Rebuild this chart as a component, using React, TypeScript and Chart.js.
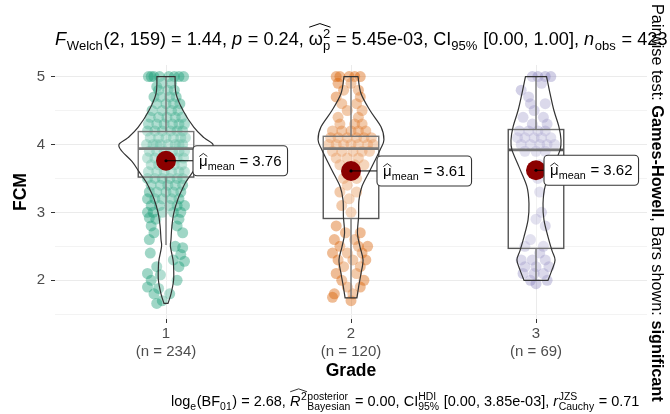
import React, { useEffect, useRef } from "react";
import { Chart, registerables } from "chart.js";

Chart.register(...registerables);

// ---------------- data ----------------
const grades = [1, 2, 3];
const groupSizes = [234, 120, 69];
const groupMeans = [3.76, 3.61, 3.62];
const boxLower = [3.52, 2.91, 2.47];
const boxMedian = [3.94, 3.94, 3.92];
const boxUpper = [4.19, 4.12, 4.22];
const whiskerMin = [2.52, 1.74, 2.0];
const whiskerMax = [5, 5, 5];
const yMajorTicks = [2, 3, 4, 5];
const yMinorTicks = [1.5, 2.5, 3.5, 4.5];

// violin half-widths (FCM value, half width in grade units)
const violinGrade1 = [
  [5, 0.049], [4.75, 0.054], [4.5, 0.092], [4.25, 0.151], [4.1, 0.205], [4.0, 0.254],
  [3.9, 0.238], [3.75, 0.184], [3.6, 0.146], [3.45, 0.108], [3.33, 0.086], [3.2, 0.065],
  [3.0, 0.043], [2.8, 0.032], [2.6, 0.027], [2.5, 0.024], [2.3, 0.038], [2.2, 0.041],
  [2.0, 0.041], [1.8, 0.027], [1.66, 0.011],
];
const violinGrade2 = [
  [5, 0.038], [4.75, 0.054], [4.5, 0.103], [4.26, 0.162], [4.07, 0.178], [3.92, 0.157],
  [3.62, 0.103], [3.38, 0.059], [3.18, 0.043], [2.94, 0.041], [2.69, 0.035], [2.49, 0.049],
  [2.3, 0.065], [2.1, 0.054], [1.9, 0.041], [1.74, 0.032],
];
const violinGrade3 = [
  [5, 0.057], [4.75, 0.076], [4.5, 0.097], [4.26, 0.124], [4.07, 0.135], [3.92, 0.13],
  [3.67, 0.092], [3.38, 0.049], [3.13, 0.038], [2.89, 0.043], [2.64, 0.065], [2.44, 0.086],
  [2.3, 0.103], [2.15, 0.086], [2.0, 0.065],
];

// jittered observations: [FCM value, horizontal jitter in grade units]
const grade1Points = [
  [5, -0.095], [5, -0.065], [5, -0.035], [5, 0.015], [5, 0.045], [5, 0.07], [5, 0.095], [5, -0.08],
  [4.9, -0.02], [4.9, 0.03], [4.85, -0.05],
  [4.8, -0.04], [4.8, 0.01], [4.8, 0.045],
  [4.7, -0.03], [4.7, 0.02], [4.7, 0.055], [4.7, -0.065],
  [4.6, -0.05], [4.6, 0.0], [4.6, 0.04], [4.6, 0.075],
  [4.5, -0.075], [4.5, -0.02], [4.5, 0.03], [4.5, 0.065],
  [4.4, -0.085], [4.4, -0.04], [4.4, 0.005], [4.4, 0.05], [4.4, 0.085],
  [4.3, -0.095], [4.3, -0.05], [4.3, -0.01], [4.3, 0.035], [4.3, 0.07], [4.3, 0.1],
  [4.2, -0.1], [4.2, -0.06], [4.2, -0.02], [4.2, 0.025], [4.2, 0.06], [4.2, 0.09],
  [4.1, -0.085], [4.1, -0.04], [4.1, 0.0], [4.1, 0.04], [4.1, 0.08], [4.1, 0.105],
  [4, -0.105], [4, -0.07], [4, -0.03], [4, 0.01], [4, 0.05], [4, 0.09], [4, -0.05], [4, 0.07],
  [3.9, -0.09], [3.9, -0.05], [3.9, -0.01], [3.9, 0.035], [3.9, 0.07], [3.9, 0.1],
  [3.8, -0.1], [3.8, -0.06], [3.8, -0.02], [3.8, 0.02], [3.8, 0.06], [3.8, 0.095],
  [3.7, -0.08], [3.7, -0.04], [3.7, 0.005], [3.7, 0.045], [3.7, 0.085],
  [3.6, -0.095], [3.6, -0.05], [3.6, -0.01], [3.6, 0.03], [3.6, 0.07], [3.6, 0.1],
  [3.5, -0.1], [3.5, -0.06], [3.5, -0.02], [3.5, 0.02], [3.5, 0.06], [3.5, 0.09],
  [3.4, -0.08], [3.4, -0.03], [3.4, 0.01], [3.4, 0.05], [3.4, 0.09],
  [3.3, -0.09], [3.3, -0.05], [3.3, 0.0], [3.3, 0.04], [3.3, 0.08],
  [3.2, -0.1], [3.2, -0.06], [3.2, -0.02], [3.2, 0.03], [3.2, 0.07],
  [3.1, -0.08], [3.1, -0.035], [3.1, 0.02], [3.1, 0.06], [3.1, 0.1],
  [3, -0.1], [3, -0.07], [3, -0.02], [3, 0.04], [3, 0.08],
  [2.92, -0.09], [2.9, -0.055], [2.9, 0.07],
  [2.8, -0.08], [2.8, 0.06],
  [2.7, -0.065], [2.7, 0.09],
  [2.6, -0.09],
  [2.5, 0.05], [2.48, 0.09],
  [2.4, -0.085], [2.38, 0.08],
  [2.3, 0.04], [2.28, 0.1],
  [2.2, -0.05], [2.2, 0.07],
  [2.1, -0.1], [2.08, -0.03],
  [2, -0.08], [2, 0.06],
  [1.9, -0.1], [1.88, -0.04],
  [1.8, -0.065], [1.8, 0.02],
  [1.7, -0.02], [1.66, -0.05],
];
const grade2Points = [
  [5, -0.08], [5, -0.06], [5, -0.01], [5, 0.02], [5, 0.05], [4.9, -0.07], [4.9, 0.0],
  [4.8, -0.04], [4.8, 0.04], [4.7, -0.08], [4.7, 0.05], [4.6, -0.05], [4.6, 0.03], [4.5, 0.06], [4.5, -0.02],
  [4.4, -0.07], [4.4, 0.04], [4.3, -0.06], [4.3, 0.02], [4.3, 0.06],
  [4.2, -0.1], [4.2, -0.05], [4.2, 0.0], [4.2, 0.04], [4.2, 0.08],
  [4.1, -0.11], [4.1, -0.07], [4.1, -0.02], [4.1, 0.03], [4.1, 0.07], [4.1, 0.11],
  [4.0, -0.12], [4.0, -0.08], [4.0, -0.04], [4.0, 0.0], [4.0, 0.04], [4.0, 0.09], [4.0, 0.12],
  [3.9, -0.1], [3.9, -0.05], [3.9, 0.01], [3.9, 0.06], [3.9, 0.1],
  [3.8, -0.08], [3.8, -0.02], [3.8, 0.04],
  [3.7, -0.06], [3.7, 0.02], [3.7, 0.07],
  [3.5, -0.04], [3.5, 0.03], [3.4, -0.02], [3.3, -0.06], [3.3, 0.03], [3.2, -0.01], [3.1, -0.05], [3.0, 0.0],
  [2.8, -0.08], [2.7, -0.03], [2.7, 0.05], [2.6, -0.09], [2.6, 0.02],
  [2.5, -0.06], [2.5, 0.04], [2.5, 0.09], [2.4, -0.1], [2.4, -0.02], [2.4, 0.06],
  [2.3, -0.07], [2.3, 0.01], [2.3, 0.08], [2.2, -0.04], [2.2, 0.05], [2.1, -0.08], [2.1, 0.03],
  [2.0, -0.05], [2.0, 0.07], [1.9, -0.02], [1.9, 0.05], [1.8, -0.09], [1.8, 0.01], [1.75, -0.1], [1.7, 0.0],
];
const grade3Points = [
  [5, -0.02], [5, 0.01], [5, 0.05], [5, 0.08], [4.9, 0.03], [4.8, -0.08], [4.7, -0.04], [4.6, 0.05],
  [4.6, -0.03], [4.5, -0.01], [4.4, -0.07], [4.4, 0.04], [4.3, -0.02], [4.3, 0.06],
  [4.2, -0.09], [4.2, -0.04], [4.2, 0.01], [4.2, 0.05],
  [4.1, -0.1], [4.1, -0.06], [4.1, -0.01], [4.1, 0.03], [4.1, 0.08],
  [4.0, -0.08], [4.0, -0.03], [4.0, 0.02], [4.0, 0.06], [4.0, 0.1],
  [3.9, -0.06], [3.9, 0.0], [3.9, 0.05],
  [3.7, 0.02], [3.6, 0.05], [3.5, 0.01], [3.3, 0.02], [3.0, 0.03], [2.9, 0.0], [2.8, 0.05],
  [2.6, -0.03], [2.5, 0.04], [2.5, -0.06], [2.4, 0.02],
  [2.3, -0.08], [2.3, -0.02], [2.3, 0.05], [2.2, -0.06], [2.2, 0.0], [2.2, 0.07],
  [2.1, -0.07], [2.1, -0.01], [2.1, 0.04], [2.0, -0.03], [2.0, 0.06], [1.95, 0.0],
];

const groupPoints = [grade1Points, grade2Points, grade3Points];
const violinProfiles = [violinGrade1, violinGrade2, violinGrade3];

// ---------------- styles ----------------
const FONT = '"Liberation Sans", Arial, Helvetica, sans-serif';
const pointColors = ["rgba(27,158,119,0.42)", "rgba(217,95,2,0.42)", "rgba(117,112,179,0.33)"];
const MEAN_COLOR = "#8B0000";
const BOX_HALF = 0.15;
const labelOffsetsPx = [27, 26, 8];

type Seg = { s?: string; it?: boolean; bold?: boolean; sub?: string; sup?: string; hat?: Seg[]; lift?: number };

function fontStr(size: number, it?: boolean, bold?: boolean) {
  return `${it ? "italic " : ""}${bold ? "bold " : ""}${size}px ${FONT}`;
}

function runRich(ctx: CanvasRenderingContext2D, segs: Seg[], x: number, y: number, size: number, draw: boolean): number {
  let cx = x;
  for (const seg of segs) {
    if (seg.hat) {
      const start = cx;
      cx += runRich(ctx, seg.hat, cx, y, size, draw);
      if (draw) {
        const lift = seg.lift ?? 0.95;
        ctx.save();
        ctx.lineWidth = Math.max(0.8, size * 0.055);
        ctx.strokeStyle = ctx.fillStyle as string;
        ctx.beginPath();
        ctx.moveTo(start + size * 0.02, y - lift * size);
        ctx.lineTo((start + cx) / 2, y - (lift + 0.2) * size);
        ctx.lineTo(cx - size * 0.02, y - lift * size);
        ctx.stroke();
        ctx.restore();
      }
      continue;
    }
    if (seg.s !== undefined) {
      ctx.font = fontStr(size, seg.it, seg.bold);
      if (draw) ctx.fillText(seg.s, cx, y);
      cx += ctx.measureText(seg.s).width;
      if (seg.it) cx += size * 0.04;
    }
    if (seg.sub !== undefined || seg.sup !== undefined) {
      const ss = size * 0.72;
      ctx.font = fontStr(ss);
      let w = 0;
      if (seg.sup !== undefined) {
        if (draw) ctx.fillText(seg.sup, cx, y - size * 0.4);
        w = Math.max(w, ctx.measureText(seg.sup).width);
      }
      if (seg.sub !== undefined) {
        if (draw) ctx.fillText(seg.sub, cx, y + size * 0.28);
        w = Math.max(w, ctx.measureText(seg.sub).width);
      }
      cx += w + size * 0.04;
    }
  }
  return cx - x;
}

function drawFitted(ctx: CanvasRenderingContext2D, segs: Seg[], x: number, y: number, targetW: number) {
  const w = runRich(ctx, segs, 0, 0, 18, false);
  const size = (18 * targetW) / w;
  runRich(ctx, segs, x, y, size, true);
}

const titleSegs: Seg[] = [
  { s: "F", it: true }, { sub: "Welch" }, { s: "(2, 159) = 1.44, " },
  { s: "p", it: true }, { s: " = 0.24, " },
  { hat: [{ s: "ω" }, { sup: "2", sub: "p" }], lift: 0.98 },
  { s: " = 5.45e-03, CI" }, { sub: "95%" }, { s: " [0.00, 1.00], " },
  { s: "n", it: true }, { sub: "obs" }, { s: " = 423" },
];
const captionSegs: Seg[] = [
  { s: "log" }, { sub: "e" }, { s: "(BF" }, { sub: "01" }, { s: ") = 2.68, " },
  { hat: [{ s: "R", it: true }, { sup: "2" }], lift: 0.98 }, { sup: "posterior", sub: "Bayesian" },
  { s: " = 0.00, CI" }, { sup: "HDI", sub: "95%" }, { s: " [0.00, 3.85e-03], " },
  { s: "r", it: true }, { sup: "JZS", sub: "Cauchy" }, { s: " = 0.71" },
];
const sideSegs: Seg[] = [
  { s: "Pairwise test: " }, { s: "Games-Howell", bold: true }, { s: ", Bars shown: " }, { s: "significant", bold: true },
];

function splinePath(ctx: CanvasRenderingContext2D, pts: number[][]) {
  for (let i = 0; i < pts.length - 1; i++) {
    const p0 = pts[Math.max(0, i - 1)];
    const p1 = pts[i];
    const p2 = pts[i + 1];
    const p3 = pts[Math.min(pts.length - 1, i + 2)];
    const c1x = p1[0] + (p2[0] - p0[0]) / 6;
    const c1y = p1[1] + (p2[1] - p0[1]) / 6;
    const c2x = p2[0] - (p3[0] - p1[0]) / 6;
    const c2y = p2[1] - (p3[1] - p1[1]) / 6;
    ctx.bezierCurveTo(c1x, c1y, c2x, c2y, p2[0], p2[1]);
  }
}

const ggPlugin = {
  id: "ggLayers",
  beforeDatasetDraw(chart: any, args: any) {
    if (args.index !== 0) return;
    const { ctx } = chart;
    const xs = chart.scales.x;
    const ys = chart.scales.y;
    ctx.save();
    // boxplots
    grades.forEach((g, i) => {
      const xl = xs.getPixelForValue(g - BOX_HALF);
      const xr = xs.getPixelForValue(g + BOX_HALF);
      const xc = xs.getPixelForValue(g);
      const yq1 = ys.getPixelForValue(boxLower[i]);
      const yq3 = ys.getPixelForValue(boxUpper[i]);
      const ymed = ys.getPixelForValue(boxMedian[i]);
      const ylo = ys.getPixelForValue(whiskerMin[i]);
      const yhi = ys.getPixelForValue(whiskerMax[i]);
      ctx.strokeStyle = "#555555";
      ctx.lineWidth = 1.4;
      ctx.beginPath();
      ctx.moveTo(xc, yq3); ctx.lineTo(xc, yhi);
      ctx.moveTo(xc, yq1); ctx.lineTo(xc, ylo);
      ctx.stroke();
      ctx.fillStyle = "rgba(255,255,255,0.2)";
      ctx.fillRect(xl, yq3, xr - xl, yq1 - yq3);
      ctx.strokeRect(xl, yq3, xr - xl, yq1 - yq3);
      ctx.lineWidth = 2.8;
      ctx.beginPath();
      ctx.moveTo(xl, ymed); ctx.lineTo(xr, ymed);
      ctx.stroke();
    });
    // violins
    violinProfiles.forEach((prof, i) => {
      const g = grades[i];
      const right = prof.map(([v, w]) => [xs.getPixelForValue(g + w), ys.getPixelForValue(v)]);
      const left = prof.map(([v, w]) => [xs.getPixelForValue(g - w), ys.getPixelForValue(v)]).reverse();
      ctx.beginPath();
      ctx.moveTo(left[left.length - 1][0], left[left.length - 1][1]);
      ctx.lineTo(right[0][0], right[0][1]);
      splinePath(ctx, right);
      ctx.lineTo(left[0][0], left[0][1]);
      splinePath(ctx, left);
      ctx.closePath();
      ctx.fillStyle = "rgba(255,255,255,0.2)";
      ctx.fill();
      ctx.strokeStyle = "#333333";
      ctx.lineWidth = 1.2;
      ctx.stroke();
    });
    ctx.restore();
  },
  afterDatasetsDraw(chart: any) {
    const { ctx } = chart;
    const xs = chart.scales.x;
    const ys = chart.scales.y;
    ctx.save();
    // mean labels
    grades.forEach((g, i) => {
      const cx = xs.getPixelForValue(g);
      const cy = ys.getPixelForValue(groupMeans[i]);
      const size = 15;
      const segs: Seg[] = [{ hat: [{ s: "μ" }], lift: 0.62 }, { sub: "mean" }, { s: " = " + groupMeans[i].toFixed(2) }];
      const w = runRich(ctx, segs, 0, 0, size, false);
      const padX = 6;
      const h = 30;
      const left = cx + labelOffsetsPx[i];
      ctx.strokeStyle = "#000";
      ctx.lineWidth = 1;
      ctx.beginPath();
      ctx.moveTo(cx, cy); ctx.lineTo(left, cy);
      ctx.stroke();
      ctx.fillStyle = "#000";
      ctx.beginPath();
      ctx.arc(cx, cy, 1.6, 0, Math.PI * 2);
      ctx.fill();
      ctx.beginPath();
      ctx.roundRect(left, cy - h / 2, w + 2 * padX, h, 4);
      ctx.fillStyle = "#fff";
      ctx.fill();
      ctx.strokeStyle = "#333";
      ctx.lineWidth = 1.1;
      ctx.stroke();
      ctx.fillStyle = "#000";
      ctx.textBaseline = "alphabetic";
      ctx.textAlign = "left";
      runRich(ctx, segs, left + padX, cy + 5, size, true);
    });
    // title, caption, side annotation
    ctx.fillStyle = "#000";
    ctx.textAlign = "left";
    ctx.textBaseline = "alphabetic";
    drawFitted(ctx, titleSegs, 55, 45, 613);
    drawFitted(ctx, captionSegs, 171, 406, 469);
    ctx.save();
    ctx.translate(652, 4);
    ctx.rotate(Math.PI / 2);
    drawFitted(ctx, sideSegs, 0, 0, 398);
    ctx.restore();
    ctx.restore();
  },
};

export default function App() {
  const ref = useRef<HTMLCanvasElement | null>(null);
  useEffect(() => {
    document.body.style.margin = "0";
    const canvas = ref.current;
    if (!canvas) return;
    Chart.defaults.font.family = FONT;
    const datasets: any[] = [
      {
        label: "mean",
        data: grades.map((g, i) => ({ x: g, y: groupMeans[i] })),
        pointRadius: 10,
        pointHoverRadius: 10,
        backgroundColor: MEAN_COLOR,
        borderColor: MEAN_COLOR,
        borderWidth: 0,
      },
      ...groupPoints.map((pts, i) => ({
        label: `Grade ${grades[i]}`,
        data: pts.map(([v, j]) => ({ x: grades[i] + j, y: v })),
        pointRadius: 5.5,
        pointHoverRadius: 5.5,
        backgroundColor: pointColors[i],
        borderWidth: 0,
      })),
    ];
    const chart = new Chart(canvas, {
      type: "scatter",
      data: { datasets },
      options: {
        responsive: false,
        animation: false,
        events: [],
        layout: { padding: { top: 65, right: 23, left: 0, bottom: 32 } },
        plugins: { legend: { display: false }, tooltip: { enabled: false } },
        scales: {
          x: {
            type: "linear",
            min: 0.4,
            max: 3.6,
            afterBuildTicks: (s: any) => { s.ticks = grades.map((v) => ({ value: v })); },
            afterFit: (s: any) => { s.height = 63; },
            ticks: {
              autoSkip: false,
              maxRotation: 0,
              padding: 2,
              color: "#4D4D4D",
              font: { size: 15 },
              callback: (v: any) => {
                const i = grades.indexOf(Number(v));
                return [String(v), `(n = ${groupSizes[i]})`];
              },
            },
            grid: { color: "#EBEBEB", lineWidth: 1, tickLength: 4, tickColor: "#333", tickWidth: 1 },
            border: { display: false },
            title: { display: true, text: "Grade", color: "#000", font: { size: 17.5, weight: "bold" }, padding: 0 },
          },
          y: {
            min: 1.43,
            max: 5.17,
            afterBuildTicks: (s: any) => {
              s.ticks = [...yMinorTicks, ...yMajorTicks].sort((a, b) => a - b).map((v) => ({ value: v }));
            },
            afterFit: (s: any) => { s.width = 55; },
            ticks: {
              autoSkip: false,
              padding: 6,
              color: "#4D4D4D",
              font: { size: 15 },
              callback: (v: any) => (yMajorTicks.includes(Number(v)) ? String(v) : ""),
            },
            grid: {
              color: (c: any) => (c.tick && yMajorTicks.includes(c.tick.value) ? "#EBEBEB" : "#F3F3F3"),
              tickColor: (c: any) => (c.tick && yMajorTicks.includes(c.tick.value) ? "#333" : "rgba(0,0,0,0)"),
              tickLength: 4,
              lineWidth: 1,
            },
            border: { display: false },
            title: { display: true, text: "FCM", color: "#000", font: { size: 17.5, weight: "bold" }, padding: { top: 11 } },
          },
        },
      } as any,
      plugins: [ggPlugin as any],
    });
    return () => chart.destroy();
  }, []);
  return <canvas ref={ref} width={670} height={414} style={{ display: "block" }} />;
}
